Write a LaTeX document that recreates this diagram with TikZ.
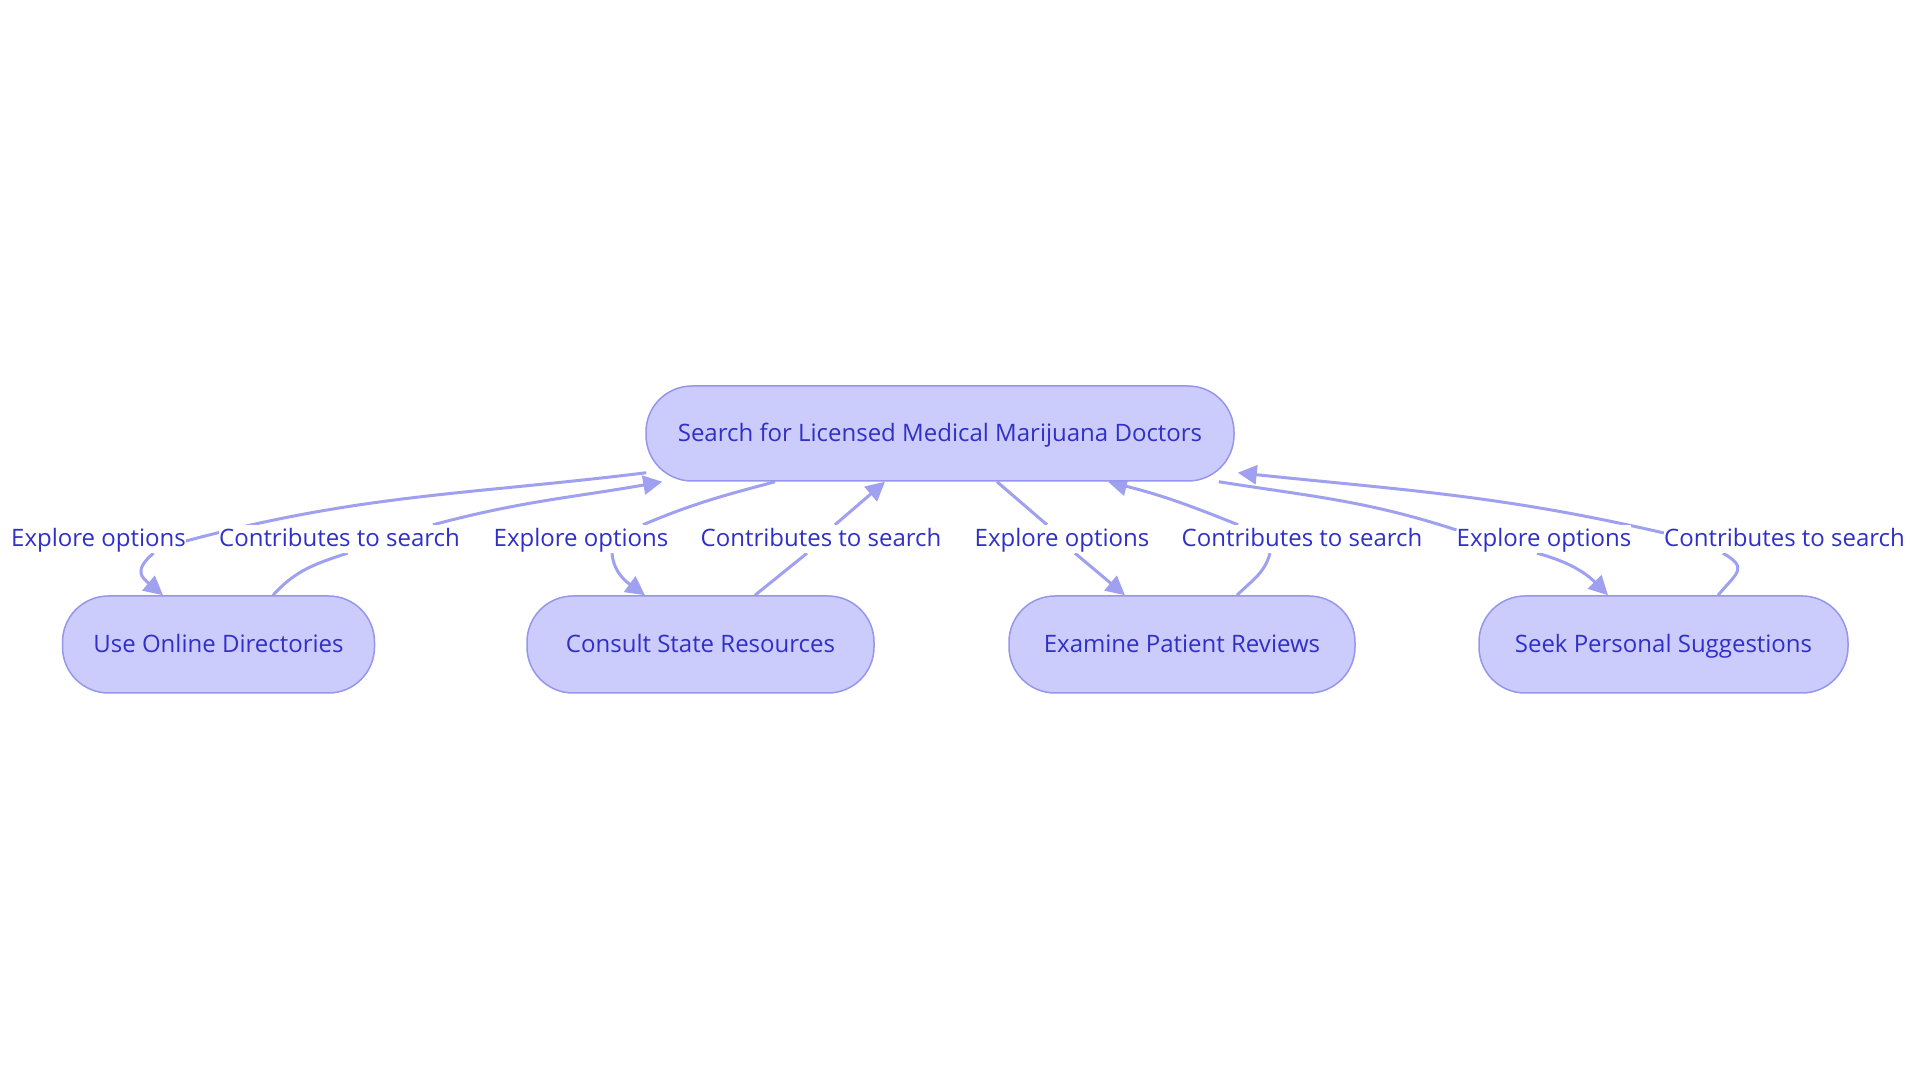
\documentclass[tikz,border=0pt]{standalone}
\usepackage{fontspec}
\setmainfont{Open Sans}
\usetikzlibrary{arrows.meta}
\definecolor{boxfill}{RGB}{203,203,252}
\definecolor{boxline}{RGB}{150,150,236}
\definecolor{edgecol}{RGB}{160,160,240}
\definecolor{txtcol}{RGB}{48,48,200}
\pgfdeclarelayer{bg}
\pgfsetlayers{bg,main}

\begin{document}
\begin{tikzpicture}[x=1pt,y=1pt,
    box/.style={draw=boxline,fill=boxfill,line width=1.5pt,rounded corners=46pt,
      minimum height=97pt,inner sep=0pt,text height=20pt,text depth=4pt,
      text=txtcol,font=\fontsize{24}{28}\selectfont},
    lbl/.style={fill=white,inner xsep=0pt,inner ysep=0pt,minimum height=28pt,
      text height=20pt,text depth=4pt,text=txtcol,font=\fontsize{24}{28}\selectfont},
    edge/.style={draw=edgecol,line width=3pt},
    tip/.style={-{Triangle[length=19pt,width=19pt]}}]

        \useasboundingbox (0,0) rectangle (1920,1083);

        \node[box,minimum width=588pt,minimum height=95pt] (search) at (940,649.5) {Search for Licensed Medical Marijuana Doctors};

        \node[box,minimum width=312pt] (online)  at (218.5,438.5) {Use Online Directories};
        \node[box,minimum width=347pt] (state)   at (700.5,438.5) {Consult State Resources};
        \node[box,minimum width=346pt] (reviews) at (1182,438.5)  {Examine Patient Reviews};
        \node[box,minimum width=369pt] (suggest) at (1663.5,438.5) {Seek Personal Suggestions};

        \node[lbl] (e1) at (98.5,544)  {Explore options};
        \node[lbl] (c1) at (339.5,544) {Contributes to search};
        \node[lbl] (e2) at (581,544)   {Explore options};
        \node[lbl] (c2) at (821,544)   {Contributes to search};
        \node[lbl] (e3) at (1062,544)  {Explore options};
        \node[lbl] (c3) at (1302,544)  {Contributes to search};
        \node[lbl] (e4) at (1544,544)  {Explore options};
        \node[lbl] (c4) at (1784.5,544) {Contributes to search};

        \begin{pgfonlayer}{bg}
        \draw[edge,tip] ([shift={(1,9)}]search.south west) to[out=187,in=15] ([yshift=-2]e1.east)
          ([xshift=55]e1.south) to[out=220,in=140,looseness=1.6] ([xshift=-55.5]online.north);
        \draw[edge,tip] ([xshift=54.5]online.north) to[out=48,in=198] ([xshift=8]c1.south)
          ([xshift=93.5]c1.north) to[out=15,in=190] ([xshift=17]search.south west);

        \draw[edge,tip] ([xshift=-165]search.south) to[out=195,in=23] ([xshift=62]e2.north)
          ([xshift=31]e2.south) to[out=-85,in=144] ([xshift=-55.5]state.north);
        \draw[edge,tip] ([xshift=54.5]state.north) -- ([xshift=-14]c2.south)
          ([xshift=14]c2.north) -- ([xshift=-55]search.south);

        \draw[edge,tip] ([xshift=57]search.south) -- ([xshift=-15]e3.north)
          ([xshift=13]e3.south) -- ([xshift=-57]reviews.north);
        \draw[edge,tip] ([xshift=55]reviews.north) to[out=45,in=255] ([xshift=-32]c3.south)
          ([xshift=-64]c3.north) to[out=158,in=-14] ([xshift=168]search.south);

        \draw[edge,tip] ([xshift=-16]search.south east) to[out=-9,in=162] ([yshift=9]e4.west)
          ([xshift=-7]e4.south) to[out=-15,in=135] ([xshift=-55.5]suggest.north);
        \draw[edge,tip] ([xshift=54.5]suggest.north) to[out=50,in=-30,looseness=1.8] ([xshift=-61.5]c4.south)
          ([yshift=6]c4.west) to[out=167,in=-6] ([shift={(3,9)}]search.south east);
        \end{pgfonlayer}
      \end{tikzpicture}
\end{document}
